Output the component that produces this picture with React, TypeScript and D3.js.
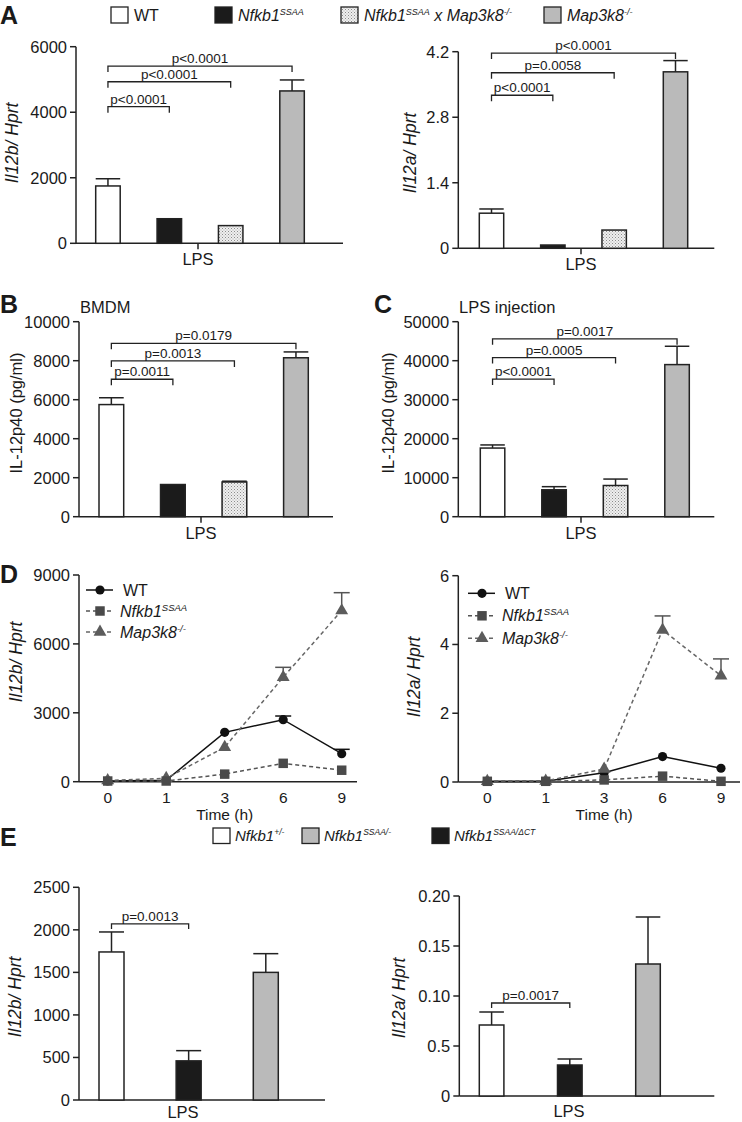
import React from "react";
import * as d3 from "d3";

// ---------------- DATA ----------------
const groupsA = ["WT", "Nfkb1^SSAA", "Nfkb1^SSAA x Map3k8^-/-", "Map3k8^-/-"];
const groupsE = ["Nfkb1^+/-", "Nfkb1^SSAA/-", "Nfkb1^SSAA/ΔCT"];
// bar order in panel E: Nfkb1+/-, Nfkb1SSAA/ΔCT, Nfkb1SSAA/-
const barOrderE = [0, 2, 1];

// Panel A left: Il12b/Hprt
const il12bMean = [1750, 750, 540, 4650];
const il12bSem = [220, 0, 0, 335];
const il12bTicks = [0, 2000, 4000, 6000];
const il12bTickLabels = ["0", "2000", "4000", "6000"];
const il12bPvals = ["p<0.0001", "p<0.0001", "p<0.0001"];
const il12bBracketLevels = [4170, 4930, 5410];

// Panel A right: Il12a/Hprt
const il12aMean = [0.75, 0.07, 0.39, 3.77];
const il12aSem = [0.09, 0, 0, 0.24];
const il12aTicks = [0, 1.4, 2.8, 4.2];
const il12aTickLabels = ["0", "1.4", "2.8", "4.2"];
const il12aPvals = ["p<0.0001", "p=0.0058", "p<0.0001"];
const il12aBracketLevels = [3.27, 3.75, 4.17];

// Panel B: BMDM IL-12p40
const bmdmMean = [5750, 1650, 1780, 8150];
const bmdmSem = [350, 0, 40, 300];
const bmdmTicks = [0, 2000, 4000, 6000, 8000, 10000];
const bmdmTickLabels = ["0", "2000", "4000", "6000", "8000", "10000"];
const bmdmPvals = ["p=0.0011", "p=0.0013", "p=0.0179"];
const bmdmBracketLevels = [7050, 7990, 8890];

// Panel C: LPS injection IL-12p40
const injMean = [17600, 6900, 8000, 39000];
const injSem = [800, 800, 1650, 4700];
const injTicks = [0, 10000, 20000, 30000, 40000, 50000];
const injTickLabels = ["0", "10000", "20000", "30000", "40000", "50000"];
const injPvals = ["p<0.0001", "p=0.0005", "p=0.0017"];
const injBracketLevels = [35300, 40800, 45600];

// Panel D: time course
const timePoints = ["0", "1", "3", "6", "9"];
const dSeries = ["WT", "Nfkb1^SSAA", "Map3k8^-/-"];
const dIl12bWT = [30, 60, 2150, 2700, 1220];
const dIl12bWTSem = [0, 0, 0, 160, 190];
const dIl12bSSAA = [30, 30, 330, 800, 500];
const dIl12bMap = [50, 150, 1500, 4550, 7450];
const dIl12bMapSem = [0, 0, 0, 430, 780];
const dIl12bTicks = [0, 3000, 6000, 9000];
const dIl12bTickLabels = ["0", "3000", "6000", "9000"];

const dIl12aWT = [0.02, 0.02, 0.27, 0.74, 0.4];
const dIl12aWTSem = [0, 0, 0, 0, 0];
const dIl12aSSAA = [0.02, 0.02, 0.06, 0.17, 0.02];
const dIl12aMap = [0.02, 0.03, 0.38, 4.42, 3.09];
const dIl12aMapSem = [0, 0, 0, 0.41, 0.49];
const dIl12aTicks = [0, 2, 4, 6];
const dIl12aTickLabels = ["0", "2", "4", "6"];

// Panel E (bar order: white, black, gray)
const eIl12bMean = [1740, 460, 1500];
const eIl12bSem = [235, 120, 220];
const eIl12bTicks = [0, 500, 1000, 1500, 2000, 2500];
const eIl12bTickLabels = ["0", "500", "1000", "1500", "2000", "2500"];
const eIl12bPvals = ["p=0.0013"];
const eIl12bBracketLevels = [2070];

const eIl12aMean = [0.071, 0.031, 0.132];
const eIl12aSem = [0.013, 0.006, 0.047];
const eIl12aTicks = [0, 0.05, 0.1, 0.15, 0.2];
const eIl12aTickLabels = ["0", "0.5", "0.10", "0.15", "0.20"];
const eIl12aPvals = ["p=0.0017"];
const eIl12aBracketLevels = [0.093];

// ---------------- STYLE ----------------
const FONT = '"Liberation Sans", Arial, Helvetica, sans-serif';
const INK = "#222";
const TICK_FS = 16.5;
const YLAB_FS = 17.5;
const FILL: Record<string, string> = {
  white: "#ffffff",
  black: "#1b1b1b",
  stipple: "url(#stipple)",
  gray: "#bababa",
};
const fillsA = ["white", "black", "stipple", "gray"];
const fillsEByGroup = ["white", "gray", "black"];

function rich(label: string, supSize = 9, rise = 6) {
  const parts = label.split(/\^(\S+)/);
  let raised = false;
  return parts
    .map((t, i) => {
      if (t === "") return null;
      const sup = i % 2 === 1;
      let dy: number | undefined;
      if (sup && !raised) {
        dy = -rise;
        raised = true;
      } else if (!sup && raised) {
        dy = rise;
        raised = false;
      }
      return (
        <tspan key={i} dy={dy} fontSize={sup ? supSize : undefined}>
          {t}
        </tspan>
      );
    })
    .filter(Boolean);
}

type BarProps = {
  axisLeft: number;
  axisRight: number;
  barLeft: number;
  barRight: number;
  barWidth: number;
  yBottom: number;
  yTop: number;
  max: number;
  ticks: number[];
  tickLabels: string[];
  means: number[];
  sems: number[];
  fills: string[];
  pvals: string[];
  levels: number[];
  drop: number;
  yLabel: string;
  italic: boolean;
  yLabelX: number;
  yLabelY: number;
  lpsX: number;
  lpsTick: boolean;
  lpsOffset: number;
};

function BarPanel(p: BarProps) {
  const n = p.means.length;
  const R = p.barRight - p.barLeft;
  const pi = (R - n * p.barWidth) / (R - p.barWidth);
  const x = d3
    .scaleBand<number>()
    .domain(d3.range(n))
    .range([p.barLeft, p.barRight])
    .paddingInner(pi)
    .paddingOuter(0);
  const y = d3.scaleLinear().domain([0, p.max]).range([p.yBottom, p.yTop]);
  const bw = x.bandwidth();
  const cx = (i: number) => (x(i) as number) + bw / 2;
  return (
    <g>
      <line x1={p.axisLeft} x2={p.axisLeft} y1={y(0)} y2={y(p.max)} stroke={INK} strokeWidth={1.5} />
      {p.ticks.map((t, i) => (
        <g key={i}>
          <line x1={p.axisLeft - 6} x2={p.axisLeft} y1={y(t)} y2={y(t)} stroke={INK} strokeWidth={1.5} />
          <text x={p.axisLeft - 9} y={y(t)} dy="0.36em" textAnchor="end" fontSize={TICK_FS}>
            {p.tickLabels[i]}
          </text>
        </g>
      ))}
      <line x1={p.axisLeft} x2={p.axisRight} y1={y(0)} y2={y(0)} stroke={INK} strokeWidth={1.5} />
      {p.lpsTick && <line x1={p.lpsX} x2={p.lpsX} y1={y(0)} y2={y(0) + 6} stroke={INK} strokeWidth={1.5} />}
      <text x={p.lpsX} y={y(0) + p.lpsOffset} textAnchor="middle" fontSize={16.5}>
        LPS
      </text>
      {p.means.map((m, i) => (
        <g key={i}>
          {p.sems[i] > 0 && (
            <g stroke={INK} strokeWidth={1.5}>
              <line x1={cx(i)} x2={cx(i)} y1={y(m)} y2={y(m + p.sems[i])} />
              <line x1={x(i) as number} x2={(x(i) as number) + bw} y1={y(m + p.sems[i])} y2={y(m + p.sems[i])} />
            </g>
          )}
          <rect
            x={x(i) as number}
            y={y(m)}
            width={bw}
            height={y(0) - y(m)}
            fill={FILL[p.fills[i]]}
            stroke={INK}
            strokeWidth={1.5}
          />
        </g>
      ))}
      {p.pvals.map((lab, k) => {
        const x0 = cx(0);
        const x1 = cx(k + 1);
        const yy = y(p.levels[k]);
        return (
          <g key={k}>
            <path
              d={`M${x0},${yy + p.drop}V${yy}H${x1}V${yy + p.drop}`}
              fill="none"
              stroke={INK}
              strokeWidth={1.3}
            />
            <text x={(x0 + x1) / 2} y={yy - 3} textAnchor="middle" fontSize={13.5}>
              {lab}
            </text>
          </g>
        );
      })}
      <text
        transform={`translate(${p.yLabelX},${p.yLabelY}) rotate(-90)`}
        textAnchor="middle"
        fontSize={p.italic ? YLAB_FS : 16.5}
        fontStyle={p.italic ? "italic" : "normal"}
      >
        {p.yLabel}
      </text>
    </g>
  );
}

type LineProps = {
  axisLeft: number;
  axisRight: number;
  x0: number;
  x1: number;
  yBottom: number;
  yTop: number;
  max: number;
  ticks: number[];
  tickLabels: string[];
  wt: number[];
  wtSem: number[];
  ssaa: number[];
  map: number[];
  mapSem: number[];
  yLabel: string;
  yLabelX: number;
  yLabelY: number;
  legX: number;
  legY: number;
  legGap: number;
};

const symCircle = d3.symbol(d3.symbolCircle, 66)();
const symSquare = d3.symbol(d3.symbolSquare, 90)();
const symTriangle = d3.symbol(d3.symbolTriangle, 72)();

function LinePanel(p: LineProps) {
  const x = d3.scalePoint<string>().domain(timePoints).range([p.x0, p.x1]);
  const y = d3.scaleLinear().domain([0, p.max]).range([p.yBottom, p.yTop]);
  const line = d3
    .line<number>()
    .x((_, i) => x(timePoints[i]) as number)
    .y((d) => y(d));
  const errs = (vals: number[], sems: number[], color: string) =>
    vals.map((v, i) =>
      sems[i] > 0 ? (
        <g key={i} stroke={color} strokeWidth={1.5}>
          <line x1={x(timePoints[i])} x2={x(timePoints[i])} y1={y(v)} y2={y(v + sems[i])} />
          <line
            x1={(x(timePoints[i]) as number) - 8}
            x2={(x(timePoints[i]) as number) + 8}
            y1={y(v + sems[i])}
            y2={y(v + sems[i])}
          />
        </g>
      ) : null
    );
  const marks = (vals: number[], sym: string | null, color: string) =>
    vals.map((v, i) => (
      <path key={i} d={sym as string} transform={`translate(${x(timePoints[i])},${y(v)})`} fill={color} />
    ));
  const styles = [
    { sym: symCircle, color: "#111", dash: undefined as string | undefined, lc: "#111" },
    { sym: symSquare, color: "#4a4a4a", dash: "4 3", lc: "#555" },
    { sym: symTriangle, color: "#5c5c5c", dash: "4 3", lc: "#666" },
  ];
  return (
    <g>
      <line x1={p.axisLeft} x2={p.axisLeft} y1={y(0)} y2={y(p.max)} stroke={INK} strokeWidth={1.5} />
      {p.ticks.map((t, i) => (
        <g key={i}>
          <line x1={p.axisLeft - 6} x2={p.axisLeft} y1={y(t)} y2={y(t)} stroke={INK} strokeWidth={1.5} />
          <text x={p.axisLeft - 9} y={y(t)} dy="0.36em" textAnchor="end" fontSize={TICK_FS}>
            {p.tickLabels[i]}
          </text>
        </g>
      ))}
      <line x1={p.axisLeft} x2={p.axisRight} y1={y(0)} y2={y(0)} stroke={INK} strokeWidth={1.5} />
      {timePoints.map((t) => (
        <text key={t} x={x(t)} y={y(0) + 21} textAnchor="middle" fontSize={15.5}>
          {t}
        </text>
      ))}
      <text x={(p.x0 + p.x1) / 2} y={y(0) + 38} textAnchor="middle" fontSize={15.5}>
        Time (h)
      </text>
      <path d={line(p.wt) as string} fill="none" stroke={styles[0].lc} strokeWidth={1.5} />
      <path d={line(p.map) as string} fill="none" stroke={styles[2].lc} strokeWidth={1.5} strokeDasharray="4 3" />
      <path d={line(p.ssaa) as string} fill="none" stroke={styles[1].lc} strokeWidth={1.5} strokeDasharray="4 3" />
      {errs(p.wt, p.wtSem, "#111")}
      {errs(p.map, p.mapSem, "#555")}
      {marks(p.wt, symCircle, styles[0].color)}
      {marks(p.map, symTriangle, styles[2].color)}
      {marks(p.ssaa, symSquare, styles[1].color)}
      {dSeries.map((s, i) => {
        const ly = p.legY + i * p.legGap;
        const st = styles[i];
        return (
          <g key={s}>
            <line
              x1={p.legX}
              x2={p.legX + 27}
              y1={ly}
              y2={ly}
              stroke={st.lc}
              strokeWidth={1.5}
              strokeDasharray={st.dash}
            />
            <path d={st.sym as string} transform={`translate(${p.legX + 14},${ly})`} fill={st.color} />
            <text
              x={p.legX + (i === 0 ? 37 : 34)}
              y={ly + 5.5}
              fontSize={16}
              fontStyle={i === 0 ? "normal" : "italic"}
            >
              {rich(s, 9.5, 6)}
            </text>
          </g>
        );
      })}
      <text
        transform={`translate(${p.yLabelX},${p.yLabelY}) rotate(-90)`}
        textAnchor="middle"
        fontSize={YLAB_FS}
        fontStyle="italic"
      >
        {p.yLabel}
      </text>
    </g>
  );
}

function Letter({ x, y, t }: { x: number; y: number; t: string }) {
  return (
    <text x={x} y={y} fontSize={25} fontWeight="bold">
      {t}
    </text>
  );
}

export default function App() {
  const topLegendX = [111, 215, 341, 544];
  const eLegendX = [213, 302, 432];
  return (
    <svg
      width={742}
      height={1122}
      viewBox="0 0 742 1122"
      style={{ position: "absolute", left: 0, top: 0, background: "#fff" }}
      fontFamily={FONT}
      fill="#1a1a1a"
    >
      <defs>
        <pattern id="stipple" width="3" height="3" patternUnits="userSpaceOnUse">
          <rect width="3" height="3" fill="#efefef" />
          <rect x="0" y="0" width="1" height="1" fill="#8c8c8c" />
          <rect x="1.5" y="1.5" width="1" height="1" fill="#a8a8a8" />
        </pattern>
      </defs>
      <rect width={742} height={1122} fill="#fff" />

      <Letter x={0} y={24} t="A" />
      <Letter x={0} y={313} t="B" />
      <Letter x={374} y={313} t="C" />
      <Letter x={0} y={583} t="D" />
      <Letter x={0} y={846} t="E" />

      {/* Top legend */}
      {groupsA.map((g, i) => (
        <g key={g}>
          <rect
            x={topLegendX[i]}
            y={7}
            width={17}
            height={16}
            fill={FILL[fillsA[i]]}
            stroke={INK}
            strokeWidth={1.3}
          />
          <text
            x={topLegendX[i] + 23}
            y={21}
            fontSize={16}
            fontStyle={i === 0 ? "normal" : "italic"}
          >
            {rich(g, 9, 6)}
          </text>
        </g>
      ))}

      <BarPanel
        axisLeft={76}
        axisRight={343}
        barLeft={95.7}
        barRight={304.3}
        barWidth={24.5}
        yBottom={243.3}
        yTop={46.7}
        max={6000}
        ticks={il12bTicks}
        tickLabels={il12bTickLabels}
        means={il12bMean}
        sems={il12bSem}
        fills={fillsA}
        pvals={il12bPvals}
        levels={il12bBracketLevels}
        drop={6}
        yLabel="Il12b/ Hprt"
        italic={true}
        yLabelX={18}
        yLabelY={143}
        lpsX={198}
        lpsTick={true}
        lpsOffset={22}
      />
      <BarPanel
        axisLeft={458.3}
        axisRight={714.3}
        barLeft={479.3}
        barRight={687.7}
        barWidth={24.4}
        yBottom={248.3}
        yTop={51.7}
        max={4.2}
        ticks={il12aTicks}
        tickLabels={il12aTickLabels}
        means={il12aMean}
        sems={il12aSem}
        fills={fillsA}
        pvals={il12aPvals}
        levels={il12aBracketLevels}
        drop={6}
        yLabel="Il12a/ Hprt"
        italic={true}
        yLabelX={416}
        yLabelY={153}
        lpsX={581}
        lpsTick={true}
        lpsOffset={22}
      />
      <text x={80} y={313} fontSize={16.5}>
        BMDM
      </text>
      <BarPanel
        axisLeft={79}
        axisRight={333}
        barLeft={99}
        barRight={308.3}
        barWidth={24.7}
        yBottom={516.7}
        yTop={321.7}
        max={10000}
        ticks={bmdmTicks}
        tickLabels={bmdmTickLabels}
        means={bmdmMean}
        sems={bmdmSem}
        fills={fillsA}
        pvals={bmdmPvals}
        levels={bmdmBracketLevels}
        drop={6}
        yLabel="IL-12p40 (pg/ml)"
        italic={false}
        yLabelX={21.5}
        yLabelY={413}
        lpsX={201}
        lpsTick={true}
        lpsOffset={22}
      />
      <text x={459} y={313} fontSize={16.5}>
        LPS injection
      </text>
      <BarPanel
        axisLeft={458.3}
        axisRight={714.3}
        barLeft={480.3}
        barRight={689.3}
        barWidth={24.5}
        yBottom={516.7}
        yTop={321.7}
        max={50000}
        ticks={injTicks}
        tickLabels={injTickLabels}
        means={injMean}
        sems={injSem}
        fills={fillsA}
        pvals={injPvals}
        levels={injBracketLevels}
        drop={6}
        yLabel="IL-12p40 (pg/ml)"
        italic={false}
        yLabelX={394}
        yLabelY={413}
        lpsX={581}
        lpsTick={true}
        lpsOffset={22}
      />

      <LinePanel
        axisLeft={79}
        axisRight={357}
        x0={107.7}
        x1={341.7}
        yBottom={781.7}
        yTop={575}
        max={9000}
        ticks={dIl12bTicks}
        tickLabels={dIl12bTickLabels}
        wt={dIl12bWT}
        wtSem={dIl12bWTSem}
        ssaa={dIl12bSSAA}
        map={dIl12bMap}
        mapSem={dIl12bMapSem}
        yLabel="Il12b/ Hprt"
        yLabelX={22}
        yLabelY={662}
        legX={86}
        legY={590}
        legGap={21}
      />
      <LinePanel
        axisLeft={458.3}
        axisRight={740}
        x0={487.3}
        x1={721}
        yBottom={782}
        yTop={575.7}
        max={6}
        ticks={dIl12aTicks}
        tickLabels={dIl12aTickLabels}
        wt={dIl12aWT}
        wtSem={dIl12aWTSem}
        ssaa={dIl12aSSAA}
        map={dIl12aMap}
        mapSem={dIl12aMapSem}
        yLabel="Il12a/ Hprt"
        yLabelX={420}
        yLabelY={677}
        legX={468}
        legY={593.3}
        legGap={22.5}
      />

      {/* E legend */}
      {groupsE.map((g, i) => (
        <g key={g}>
          <rect
            x={eLegendX[i]}
            y={828}
            width={17}
            height={15.5}
            fill={FILL[fillsEByGroup[i]]}
            stroke={INK}
            strokeWidth={1.3}
          />
          <text x={eLegendX[i] + 22} y={841} fontSize={15} fontStyle="italic">
            {rich(g, 8.5, 6)}
          </text>
        </g>
      ))}

      <BarPanel
        axisLeft={79}
        axisRight={325}
        barLeft={99}
        barRight={278.3}
        barWidth={25}
        yBottom={1100}
        yTop={887.3}
        max={2500}
        ticks={eIl12bTicks}
        tickLabels={eIl12bTickLabels}
        means={eIl12bMean}
        sems={eIl12bSem}
        fills={barOrderE.map((g) => fillsEByGroup[g])}
        pvals={eIl12bPvals}
        levels={eIl12bBracketLevels}
        drop={5}
        yLabel="Il12b/ Hprt"
        italic={true}
        yLabelX={21}
        yLabelY={997}
        lpsX={183}
        lpsTick={false}
        lpsOffset={18}
      />
      <BarPanel
        axisLeft={459.3}
        axisRight={714.3}
        barLeft={479.3}
        barRight={660.3}
        barWidth={24.6}
        yBottom={1096}
        yTop={896}
        max={0.2}
        ticks={eIl12aTicks}
        tickLabels={eIl12aTickLabels}
        means={eIl12aMean}
        sems={eIl12aSem}
        fills={barOrderE.map((g) => fillsEByGroup[g])}
        pvals={eIl12aPvals}
        levels={eIl12aBracketLevels}
        drop={5}
        yLabel="Il12a/ Hprt"
        italic={true}
        yLabelX={405}
        yLabelY={998}
        lpsX={569}
        lpsTick={false}
        lpsOffset={21}
      />
    </svg>
  );
}
